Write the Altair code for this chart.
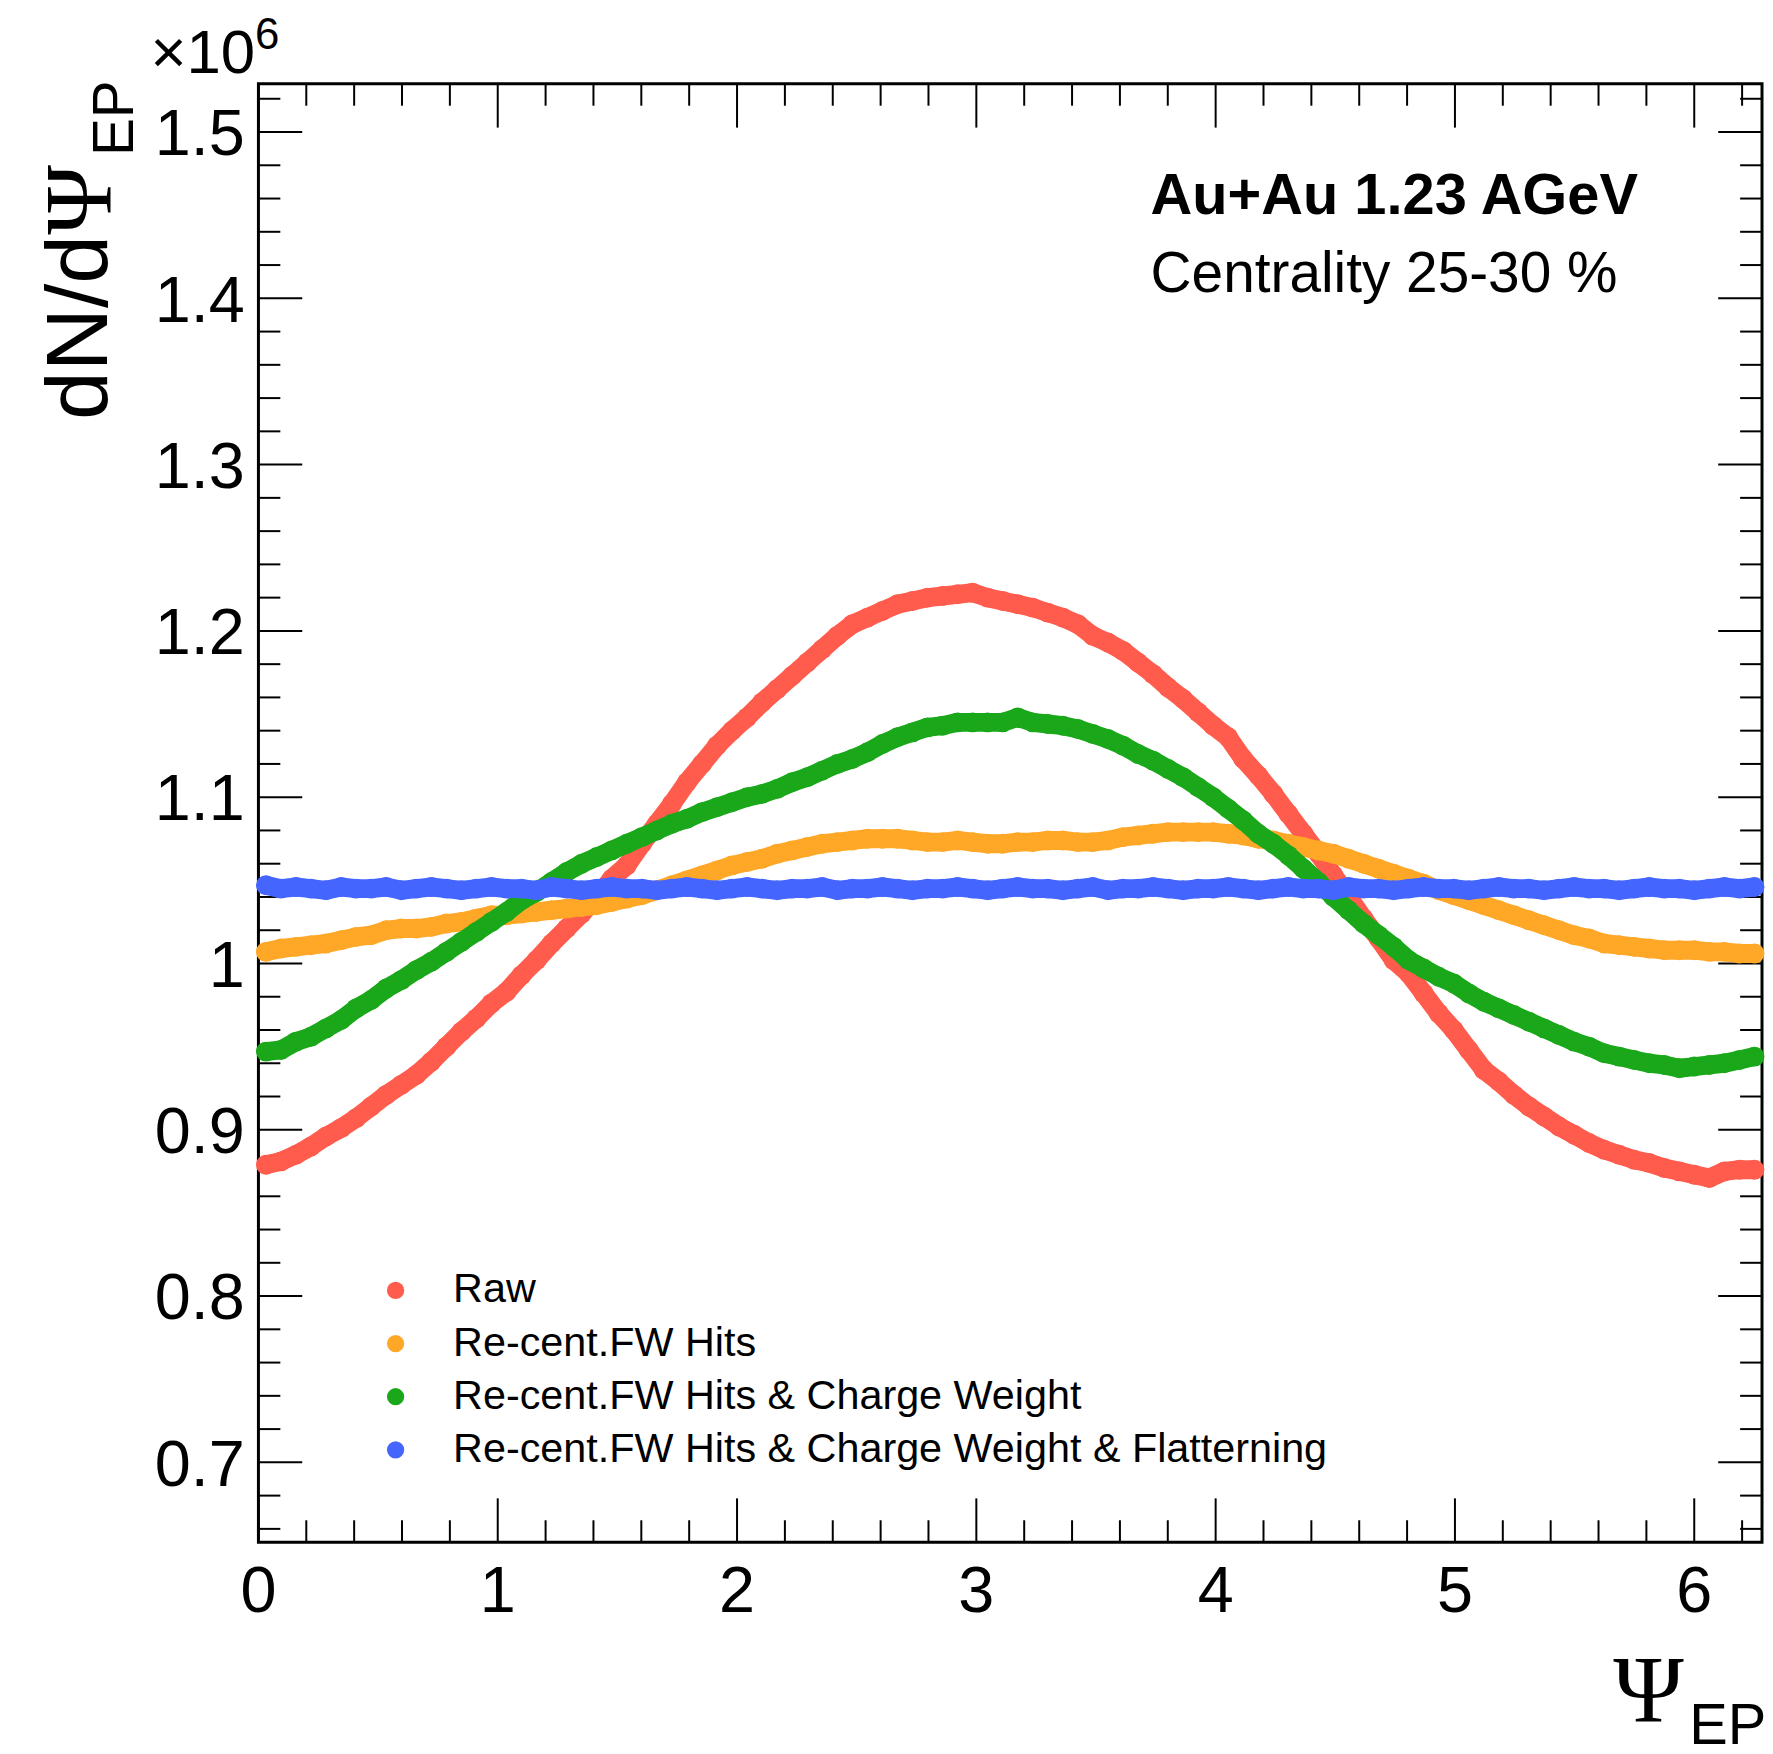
import math
import altair as alt
import pandas as pd

# ---------------- data ----------------
TWO_PI = 2 * math.pi
n_bins = 100
psi = [(i + 0.5) * TWO_PI / n_bins for i in range(n_bins)]

series_names = [
    "Raw",
    "Re-cent.FW Hits",
    "Re-cent.FW Hits & Charge Weight",
    "Re-cent.FW Hits & Charge Weight & Flatterning",
]
series_colors = ["#ff5c4d", "#ffa726", "#1aa81a", "#4466ff"]

raw = [
    0.879, 0.881, 0.885, 0.890, 0.896, 0.901, 0.907, 0.914, 0.921, 0.927,
    0.933, 0.941, 0.950, 0.959, 0.967, 0.976, 0.983, 0.993, 1.002, 1.012,
    1.021, 1.030, 1.040, 1.051, 1.059, 1.072, 1.084, 1.096, 1.109, 1.120,
    1.131, 1.140, 1.148, 1.157, 1.165, 1.173, 1.181, 1.189, 1.197, 1.204,
    1.208, 1.212, 1.216, 1.218, 1.220, 1.221, 1.222, 1.223, 1.220, 1.218,
    1.216, 1.214, 1.211, 1.208, 1.204, 1.197, 1.193, 1.188, 1.181, 1.174,
    1.166, 1.159, 1.151, 1.143, 1.136, 1.123, 1.113, 1.102, 1.090, 1.078,
    1.066, 1.053, 1.040, 1.027, 1.015, 1.002, 0.994, 0.982, 0.970, 0.960,
    0.948, 0.936, 0.929, 0.921, 0.914, 0.908, 0.902, 0.897, 0.892, 0.888,
    0.885, 0.882, 0.880, 0.877, 0.875, 0.873, 0.871, 0.875, 0.876, 0.876,
]

recent_fw = [
    1.007, 1.009, 1.010, 1.011, 1.012, 1.014, 1.016, 1.017, 1.020, 1.021,
    1.021, 1.022, 1.024, 1.025, 1.027, 1.029, 1.029, 1.030, 1.031, 1.032,
    1.033, 1.034, 1.035, 1.037, 1.039, 1.041, 1.044, 1.047, 1.050, 1.053,
    1.056, 1.059, 1.061, 1.063, 1.066, 1.068, 1.070, 1.072, 1.073, 1.074,
    1.075, 1.075, 1.075, 1.074, 1.073, 1.073, 1.074, 1.073, 1.072, 1.072,
    1.073, 1.073, 1.074, 1.074, 1.073, 1.073, 1.074, 1.076, 1.077, 1.078,
    1.079, 1.079, 1.079, 1.079, 1.078, 1.077, 1.075, 1.074, 1.072, 1.070,
    1.068, 1.066, 1.063, 1.060, 1.057, 1.054, 1.051, 1.048, 1.044, 1.041,
    1.038, 1.035, 1.032, 1.029, 1.026, 1.023, 1.020, 1.017, 1.015, 1.012,
    1.011, 1.010, 1.009, 1.008, 1.008, 1.008, 1.007, 1.007, 1.006, 1.006,
]

charge_weight = [
    0.947, 0.948, 0.953, 0.956, 0.961, 0.966, 0.973, 0.978, 0.985, 0.990,
    0.996, 1.001, 1.007, 1.013, 1.019, 1.025, 1.031, 1.038, 1.043, 1.049,
    1.055, 1.060, 1.064, 1.068, 1.072, 1.076, 1.080, 1.084, 1.087, 1.091,
    1.094, 1.097, 1.100, 1.102, 1.105, 1.109, 1.112, 1.116, 1.120, 1.123,
    1.127, 1.132, 1.136, 1.139, 1.142, 1.143, 1.145, 1.145, 1.145, 1.145,
    1.148, 1.145, 1.144, 1.143, 1.141, 1.138, 1.135, 1.131, 1.126, 1.122,
    1.117, 1.112, 1.106, 1.100, 1.093, 1.086, 1.078, 1.072, 1.065, 1.057,
    1.049, 1.040, 1.032, 1.024, 1.017, 1.010, 1.002, 0.997, 0.992, 0.988,
    0.982, 0.977, 0.973, 0.969, 0.965, 0.961, 0.957, 0.953, 0.950, 0.946,
    0.944, 0.942, 0.940, 0.939, 0.937, 0.938, 0.939, 0.940, 0.942, 0.944,
]

flattening = [
    1.047, 1.045, 1.046, 1.045, 1.044, 1.046, 1.045, 1.045, 1.046, 1.044,
    1.045, 1.046, 1.045, 1.044, 1.045, 1.046, 1.045, 1.045, 1.044, 1.046,
    1.045, 1.044, 1.045, 1.046, 1.045, 1.045, 1.044, 1.045, 1.046, 1.045,
    1.044, 1.045, 1.046, 1.045, 1.044, 1.045, 1.045, 1.046, 1.044, 1.045,
    1.045, 1.046, 1.045, 1.044, 1.045, 1.045, 1.046, 1.045, 1.044, 1.045,
    1.046, 1.045, 1.045, 1.044, 1.045, 1.046, 1.044, 1.045, 1.045, 1.046,
    1.045, 1.044, 1.045, 1.045, 1.046, 1.045, 1.044, 1.045, 1.046, 1.045,
    1.045, 1.044, 1.046, 1.045, 1.045, 1.044, 1.045, 1.046, 1.045, 1.045,
    1.044, 1.045, 1.046, 1.045, 1.045, 1.044, 1.045, 1.046, 1.045, 1.045,
    1.044, 1.045, 1.046, 1.045, 1.045, 1.044, 1.045, 1.046, 1.045, 1.046,
]

x_major = [0, 1, 2, 3, 4, 5, 6]
x_tick_labels = ["0", "1", "2", "3", "4", "5", "6"]
x_minor = [round(0.2 * k, 1) for k in range(32) if k % 5 != 0]
y_major = [0.7, 0.8, 0.9, 1.0, 1.1, 1.2, 1.3, 1.4, 1.5]
y_tick_labels = ["0.7", "0.8", "0.9", "1", "1.1", "1.2", "1.3", "1.4", "1.5"]
y_minor = [round(0.66 + 0.02 * k, 2) for k in range(44)]
y_minor = [v for v in y_minor if round(v * 10, 6) != round(v * 10)]

# ---------------- table ----------------
rows = []
for name, vals in zip(series_names, [raw, recent_fw, charge_weight, flattening]):
    for p, v in zip(psi, vals):
        rows.append({"psi": p, "value": v, "series": name})
df = pd.DataFrame(rows)

W = 1510
H = 1464.6
xscale = alt.Scale(domain=[0, TWO_PI], nice=False, zero=False)
yscale = alt.Scale(domain=[0.652, 1.529], nice=False, zero=False)
cscale = alt.Scale(domain=series_names, range=series_colors)
MAJ = 44
MIN = 22
TICKW = 2
FONT = "Liberation Sans"

def xticks(vals, length):
    d = pd.DataFrame({"v": vals})
    bottom = alt.Chart(d).mark_rule(color="black", strokeWidth=TICKW).encode(
        x=alt.X("v:Q", scale=xscale, axis=None),
        y=alt.value(H), y2=alt.value(H - length))
    top = alt.Chart(d).mark_rule(color="black", strokeWidth=TICKW).encode(
        x=alt.X("v:Q", scale=xscale, axis=None),
        y=alt.value(0), y2=alt.value(length))
    return [bottom, top]

def yticks(vals, length):
    d = pd.DataFrame({"v": vals})
    left = alt.Chart(d).mark_rule(color="black", strokeWidth=TICKW).encode(
        y=alt.Y("v:Q", scale=yscale, axis=None),
        x=alt.value(0), x2=alt.value(length))
    right = alt.Chart(d).mark_rule(color="black", strokeWidth=TICKW).encode(
        y=alt.Y("v:Q", scale=yscale, axis=None),
        x=alt.value(W), x2=alt.value(W - length))
    return [left, right]

tick_layers = (xticks(x_major, MAJ) + xticks(x_minor, MIN)
               + yticks(y_major, MAJ) + yticks(y_minor, MIN))

x_labels = alt.Chart(pd.DataFrame({"v": x_major, "lab": x_tick_labels})).mark_text(
    fontSize=65, font=FONT, align="center", baseline="alphabetic", color="black"
).encode(x=alt.X("v:Q", scale=xscale, axis=None), y=alt.value(H + 70), text="lab:N")

y_labels = alt.Chart(pd.DataFrame({"v": y_major, "lab": y_tick_labels})).mark_text(
    fontSize=65, font=FONT, align="right", baseline="alphabetic", dy=23.3, color="black"
).encode(y=alt.Y("v:Q", scale=yscale, axis=None), x=alt.value(-13.8), text="lab:N")

legend = alt.Legend(orient="none", legendX=117, legendY=1191,
                    direction="vertical", title=None,
                    symbolType="circle", symbolSize=300,
                    symbolStrokeWidth=0, symbolOpacity=1,
                    labelFontSize=41.5, labelFont=FONT,
                    labelColor="black", labelLimit=3000,
                    labelOffset=37, rowPadding=10.4, padding=0)

series_layers = []
for name, col in zip(series_names, series_colors):
    sub = alt.Chart(df).transform_filter(alt.datum.series == name)
    band = sub.mark_line(color=col, strokeWidth=19, strokeCap="round",
                         strokeJoin="round").encode(
        x=alt.X("psi:Q", scale=xscale, axis=None),
        y=alt.Y("value:Q", scale=yscale, axis=None),
    )
    dots = sub.mark_circle(size=400, opacity=1).encode(
        x=alt.X("psi:Q", scale=xscale, axis=None),
        y=alt.Y("value:Q", scale=yscale, axis=None),
        color=alt.Color("series:N", scale=cscale, legend=legend),
    )
    series_layers += [band, dots]

def txt(s, x, y, size, font=FONT, weight="normal", angle=0):
    return alt.Chart(pd.DataFrame({"t": [s]})).mark_text(
        align="left", baseline="alphabetic", fontSize=size, font=font,
        fontWeight=weight, angle=angle, color="black").encode(
        x=alt.value(x), y=alt.value(y), text="t:N")

texts = [
    # y-axis title (rotated)
    txt("dN/d", -152.5, 337.6, 88, angle=270),
    txt("Ψ", -148.5, 151.6, 95, font="Liberation Serif", angle=270),
    txt("EP", -125.5, 72.6, 57, angle=270),
    # exponent
    txt("×10", -108.5, -11, 62),
    txt("6", -3.5, -35.4, 44),
    # x-axis title
    txt("Ψ", 1360.5, 1645.6, 96, font="Liberation Serif"),
    txt("EP", 1437, 1667.6, 58),
    # annotations
    txt("Au+Au 1.23 AGeV", 896, 131, 58, weight="bold"),
    txt("Centrality 25-30 %", 896, 209.5, 57),
]

chart = alt.layer(*tick_layers, x_labels, y_labels, *series_layers, *texts).properties(
    width=W, height=H,
    autosize=alt.AutoSizeParams(type="none"),
    padding={"left": 251.5, "top": 72.4, "right": 3, "bottom": 208},
).configure(background="white").configure_view(stroke="black", strokeWidth=3)

chart.save("out.html", embed_options={"renderer": "svg", "actions": False})
